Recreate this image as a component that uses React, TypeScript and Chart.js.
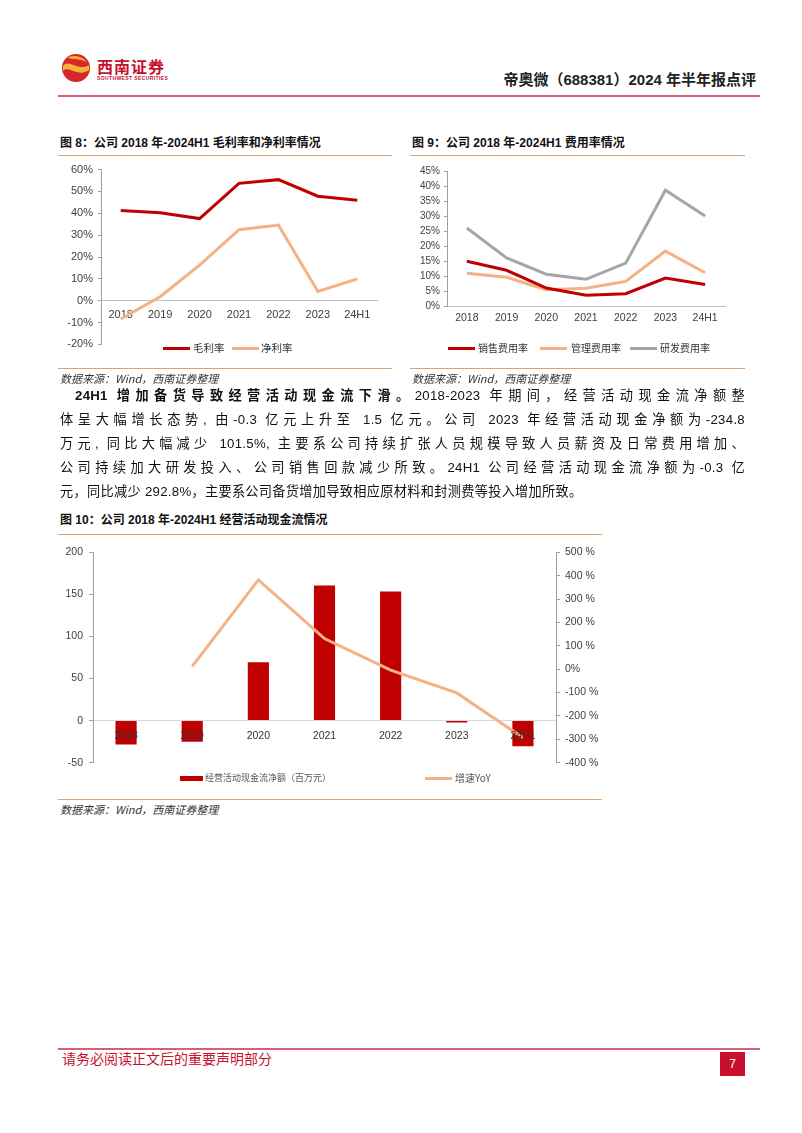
import React, { useEffect, useRef } from "react";
import { Chart, registerables } from "chart.js";
Chart.register(...registerables);

const years = ["2018", "2019", "2020", "2021", "2022", "2023", "24H1"];
const grossMargin = [41.3, 40.2, 37.6, 53.7, 55.4, 47.8, 46.0];
const netMargin = [-8.4, 1.8, 16.3, 32.5, 34.6, 4.2, 10.0];
const sellingRate = [14.9, 11.9, 6.0, 3.6, 4.1, 9.3, 7.2];
const adminRate = [10.9, 9.6, 5.4, 5.9, 8.2, 18.3, 11.1];
const rdRate = [26.0, 16.0, 10.6, 8.9, 14.3, 38.6, 30.0];
const opCashFlow = [-28.5, -25.0, 69.5, 160.5, 153.5, -2.35, -30.5];
const cashFlowYoY = [null, 12, 382, 131, -4.3, -101.5, -292.8];

const RED = "#C00000";
const ORANGE = "#F4B183";
const GREY = "#A6A6A6";
const AXIS = "#A0A0A0";
const TICK = "#404040";
const SANS = '"Liberation Sans", Arial, sans-serif';
const CJK = '"Noto Sans CJK SC", "Noto Sans", sans-serif';
const MIXED = '"Liberation Sans", "Noto Sans CJK SC", sans-serif';

Chart.defaults.font.family = SANS;

function ChartCanvas({ config, left, top, width, height }: any) {
  const ref = useRef<HTMLCanvasElement | null>(null);
  useEffect(() => {
    if (!ref.current) return;
    const c = new Chart(ref.current, config);
    return () => c.destroy();
  }, []);
  return (
    <canvas
      ref={ref}
      width={width}
      height={height}
      style={{ position: "absolute", left, top, width, height }}
    />
  );
}

const baseOpts = {
  responsive: false,
  animation: false,
  devicePixelRatio: 1,
  plugins: { legend: { display: false }, tooltip: { enabled: false } },
  elements: { point: { radius: 0 }, line: { tension: 0, borderWidth: 3 } },
};

const fig8Config: any = {
  type: "line",
  data: {
    labels: years,
    datasets: [
      { label: "毛利率", data: grossMargin, borderColor: RED, backgroundColor: RED },
      { label: "净利率", data: netMargin, borderColor: ORANGE, backgroundColor: ORANGE },
    ],
  },
  options: {
    ...baseOpts,
    layout: { padding: { top: 10, bottom: 8, right: 11, left: 0 } },
    scales: {
      x: {
        position: { y: 0 },
        offset: true,
        grid: { display: false, drawTicks: false },
        border: { display: true, color: "#BFBFBF", width: 1 },
        ticks: { color: TICK, font: { size: 11 }, padding: 8 },
      },
      y: {
        min: -20,
        max: 60,
        afterFit: (s: any) => { s.width = 43; },
        grid: { display: true, drawOnChartArea: false, drawTicks: true, tickLength: 3, color: AXIS },
        border: { display: true, color: AXIS, width: 1 },
        ticks: { stepSize: 10, color: TICK, font: { size: 11 }, padding: 5, callback: (v: any) => v + "%" },
      },
    },
  },
};

const fig9Config: any = {
  type: "line",
  data: {
    labels: years,
    datasets: [
      { label: "销售费用率", data: sellingRate, borderColor: RED, backgroundColor: RED, order: 1 },
      { label: "管理费用率", data: adminRate, borderColor: ORANGE, backgroundColor: ORANGE, order: 2 },
      { label: "研发费用率", data: rdRate, borderColor: GREY, backgroundColor: GREY, order: 3 },
    ],
  },
  options: {
    ...baseOpts,
    layout: { padding: { top: 11, bottom: 0, right: 10, left: 0 } },
    scales: {
      x: {
        offset: true,
        afterFit: (s: any) => { s.height = 20; },
        grid: { display: false, drawTicks: false },
        border: { display: true, color: "#BFBFBF", width: 1 },
        ticks: { color: TICK, font: { size: 10.5 }, padding: 6 },
      },
      y: {
        min: 0,
        max: 45,
        afterFit: (s: any) => { s.width = 42; },
        grid: { display: true, drawOnChartArea: false, drawTicks: true, tickLength: 3, color: AXIS },
        border: { display: true, color: AXIS, width: 1 },
        ticks: { stepSize: 5, color: TICK, font: { size: 10 }, padding: 4, callback: (v: any) => v + "%" },
      },
    },
  },
};

const fig10Config: any = {
  type: "bar",
  data: {
    labels: years,
    datasets: [
      {
        type: "line",
        label: "增速YoY",
        data: cashFlowYoY,
        yAxisID: "y1",
        borderColor: ORANGE,
        backgroundColor: ORANGE,
        borderWidth: 3,
        order: 1,
      },
      {
        type: "bar",
        label: "经营活动现金流净额（百万元）",
        data: opCashFlow,
        yAxisID: "y",
        backgroundColor: RED,
        barPercentage: 0.32,
        categoryPercentage: 1,
        order: 2,
      },
    ],
  },
  options: {
    ...baseOpts,
    layout: { padding: { top: 11, bottom: 8, right: 0, left: 0 } },
    scales: {
      x: {
        position: { y: 0 },
        offset: true,
        grid: { display: false, drawTicks: false },
        border: { display: true, color: "#D9D9D9", width: 1 },
        ticks: { z: 1, color: "#333", font: { size: 10.5 }, padding: 9 },
      },
      y: {
        position: "left",
        min: -50,
        max: 200,
        afterFit: (s: any) => { s.width = 35; },
        grid: { display: true, drawOnChartArea: false, drawTicks: true, tickLength: 4, color: AXIS },
        border: { display: true, color: AXIS, width: 1 },
        ticks: { stepSize: 50, color: TICK, font: { size: 10.5 }, padding: 6 },
      },
      y1: {
        position: "right",
        min: -400,
        max: 500,
        afterFit: (s: any) => { s.width = 46; },
        grid: { display: true, drawOnChartArea: false, drawTicks: true, tickLength: 4, color: AXIS },
        border: { display: true, color: AXIS, width: 1 },
        ticks: {
          stepSize: 100,
          color: TICK,
          font: { size: 10.5 },
          padding: 5,
          callback: (v: any) => (v === 0 ? "0%" : v + " %"),
        },
      },
    },
  },
};

function Txt({ x, y, size = 12, children, style = {} }: any) {
  return (
    <div
      style={{
        position: "absolute",
        left: x,
        top: y - size * 0.7,
        fontSize: size,
        lineHeight: size * 1.4 + "px",
        whiteSpace: "nowrap",
        ...style,
      }}
    >
      {children}
    </div>
  );
}

function HLine({ x1, x2, y, color, h = 1 }: any) {
  return (
    <div style={{ position: "absolute", left: x1, top: y, width: x2 - x1, height: h, background: color }} />
  );
}

function LegendItem({ x, y, color, text, w = 27, h = 3, textX, size = 10.5, textColor = "#333" }: any) {
  return (
    <>
      <div style={{ position: "absolute", left: x, top: y - h / 2, width: w, height: h, background: color }} />
      <Txt x={textX} y={y} size={size} style={{ fontFamily: CJK, color: textColor }}>
        {text}
      </Txt>
    </>
  );
}

const TAN = "#D9A56E";
const source = "数据来源：Wind，西南证券整理";

const bodyLines = [
  "体呈大幅增长态势, 由-0.3 亿元上升至 1.5 亿元。公司 2023 年经营活动现金净额为-234.8",
  "万元, 同比大幅减少 101.5%, 主要系公司持续扩张人员规模导致人员薪资及日常费用增加、",
  "公司持续加大研发投入、公司销售回款减少所致。24H1 公司经营活动现金流净额为-0.3 亿",
  "元，同比减少 292.8%，主要系公司备货增加导致相应原材料和封测费等投入增加所致。",
];

export default function App() {
  const srcStyle = { fontFamily: CJK, fontStyle: "italic", color: "#333" };
  const titleStyle = { fontFamily: MIXED, fontWeight: 700, color: "#111" };
  const bodyStyle: any = {
    position: "absolute",
    fontFamily: MIXED,
    fontSize: 13.2,
    letterSpacing: 0.3,
    lineHeight: "24px",
    color: "#111",
    textAlign: "justify",
    whiteSpace: "nowrap",
  };
  return (
    <div
      style={{
        position: "absolute",
        left: 0,
        top: 0,
        width: 802,
        height: 1133,
        background: "#fff",
        overflow: "hidden",
      }}
    >
      {/* header */}
      <svg style={{ position: "absolute", left: 61, top: 53 }} width="30" height="30" viewBox="0 0 30 30">
        <circle cx="15" cy="15" r="14" fill="#D7262E" />
        <path d="M2,13 C8,5 17,19 28,12 L28,17 C17,25 8,12 2,18 Z" fill="#F2B233" />
        <path d="M6,5 C12,1 22,3 26,9 C20,6 12,6 6,5 Z" fill="#F2B233" />
      </svg>
      <Txt x={97} y={66} size={16} style={{ fontFamily: CJK, fontWeight: 700, color: "#C8102E", letterSpacing: 1 }}>
        西南证券
      </Txt>
      <Txt x={97} y={78.5} size={5} style={{ fontFamily: SANS, fontWeight: 700, color: "#C8102E", letterSpacing: 0.4 }}>
        SOUTHWEST SECURITIES
      </Txt>
      <div
        style={{
          position: "absolute",
          right: 802 - 756,
          top: 70,
          fontSize: 15,
          lineHeight: "20px",
          fontFamily: MIXED,
          fontWeight: 700,
          color: "#222",
          whiteSpace: "nowrap",
        }}
      >
        帝奥微（688381）2024 年半年报点评
      </div>
      <HLine x1={58} x2={760} y={95} h={2} color="#D6607A" />

      {/* figure 8 */}
      <Txt x={60} y={143} size={12} style={titleStyle}>
        图 8：公司 2018 年-2024H1 毛利率和净利率情况
      </Txt>
      <HLine x1={58} x2={392} y={155} color={TAN} />
      <ChartCanvas config={fig8Config} left={58} top={158} width={330} height={198} />
      <LegendItem x={163} y={348} color={RED} text="毛利率" textX={193} />
      <LegendItem x={232} y={348} color={ORANGE} text="净利率" textX={261} />
      <HLine x1={58} x2={392} y={368} color={TAN} />
      <Txt x={60} y={379} size={11} style={srcStyle}>{source}</Txt>

      {/* figure 9 */}
      <Txt x={412} y={143} size={12} style={titleStyle}>
        图 9：公司 2018 年-2024H1 费用率情况
      </Txt>
      <HLine x1={410} x2={745} y={155} color={TAN} />
      <ChartCanvas config={fig9Config} left={405} top={160} width={330} height={166} />
      <LegendItem x={448} y={348} color={RED} text="销售费用率" textX={478} size={10} />
      <LegendItem x={540} y={348} color={ORANGE} text="管理费用率" textX={571} size={10} />
      <LegendItem x={630} y={348} color={GREY} text="研发费用率" textX={660} size={10} />
      <HLine x1={410} x2={745} y={368} color={TAN} />
      <Txt x={412} y={379} size={11} style={srcStyle}>{source}</Txt>

      {/* body */}
      <div style={{ ...bodyStyle, left: 75, top: 384, width: 670, textAlignLast: "justify" }}>
        <span style={{ fontWeight: 700 }}>24H1 增加备货导致经营活动现金流下滑。</span>
        2018-2023 年期间，经营活动现金流净额整
      </div>
      {bodyLines.map((t, i) => (
        <div
          key={i}
          style={{
            ...bodyStyle,
            left: 60,
            top: 408 + i * 24,
            width: 685,
            textAlignLast: i < bodyLines.length - 1 ? "justify" : "left",
          }}
        >
          {t}
        </div>
      ))}

      {/* figure 10 */}
      <Txt x={60} y={520} size={12} style={titleStyle}>
        图 10：公司 2018 年-2024H1 经营活动现金流情况
      </Txt>
      <HLine x1={58} x2={602} y={534} color={TAN} />
      <ChartCanvas config={fig10Config} left={58} top={540} width={544} height={235} />
      <LegendItem x={180} y={778} color={RED} w={23} h={5} text="经营活动现金流净额（百万元）" textX={205} size={9} textColor="#555" />
      <LegendItem x={425} y={778} color={ORANGE} text="增速YoY" textX={455} size={10} textColor="#555" />
      <HLine x1={58} x2={602} y={799} color={TAN} />
      <Txt x={60} y={810} size={11} style={srcStyle}>{source}</Txt>

      {/* footer */}
      <HLine x1={58} x2={760} y={1048} h={2} color="#D6607A" />
      <Txt x={62} y={1059} size={14} style={{ fontFamily: CJK, color: "#C8102E" }}>
        请务必阅读正文后的重要声明部分
      </Txt>
      <div
        style={{
          position: "absolute",
          left: 720,
          top: 1052,
          width: 25,
          height: 24,
          background: "#C8102E",
          color: "#fff",
          fontFamily: SANS,
          fontSize: 12,
          lineHeight: "24px",
          textAlign: "center",
        }}
      >
        7
      </div>
    </div>
  );
}
